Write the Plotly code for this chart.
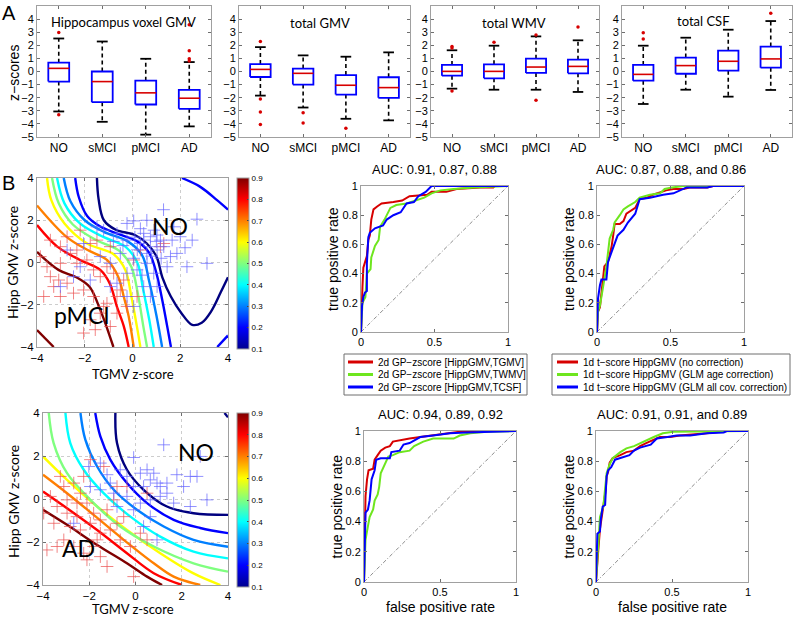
import plotly.graph_objects as go

W, H = 795, 617

# ---------------- panel A: boxplot summaries ----------------
groups = ["NO", "sMCI", "pMCI", "AD"]
group_pos = [1, 2, 3, 4]
box_titles = ["Hippocampus voxel GMV", "total GMV", "total WMV", "total CSF"]

hipp_upper = [2.52, 2.29, 0.97, 0.72]
hipp_q3 = [0.67, 0.00, -0.70, -1.40]
hipp_median = [0.24, -0.77, -1.63, -2.04]
hipp_q1 = [-0.77, -2.34, -2.52, -2.85]
hipp_lower = [-3.05, -3.84, -4.82, -4.19]
hipp_out_grp = [1, 1, 4, 4, 4, 4]
hipp_out_val = [2.97, -3.30, 3.56, 1.58, 0.97, 0.80]

gmv_upper = [1.86, 1.23, 1.13, 1.46]
gmv_q3 = [0.57, 0.22, -0.27, -0.44]
gmv_median = [0.16, -0.14, -1.05, -1.23]
gmv_q1 = [-0.42, -1.00, -1.76, -2.01]
gmv_lower = [-1.84, -2.75, -3.61, -3.73]
gmv_out_grp = [1, 1, 1, 1, 2, 2, 3]
gmv_out_val = [2.29, -2.09, -3.10, -4.04, -3.15, -3.94, -4.34]

wmv_upper = [1.62, 1.97, 2.68, 2.38]
wmv_q3 = [0.50, 0.55, 0.98, 0.90]
wmv_median = [0.01, 0.01, 0.34, 0.39]
wmv_q1 = [-0.32, -0.52, -0.11, -0.14]
wmv_lower = [-1.31, -1.39, -1.39, -1.56]
wmv_out_grp = [1, 1, 1, 2, 3, 3, 4]
wmv_out_val = [1.90, 1.80, -1.49, 2.23, 2.78, -2.20, 3.40]

csf_upper = [1.97, 2.58, 3.19, 3.85]
csf_q3 = [0.50, 1.06, 1.59, 1.90]
csf_median = [-0.22, 0.45, 0.78, 0.96]
csf_q1 = [-0.70, -0.17, 0.06, 0.29]
csf_lower = [-2.48, -1.39, -1.92, -1.41]
csf_out_grp = [1, 1, 4]
csf_out_val = [2.96, 2.48, 4.44]

# ---------------- panel B: GP probability contours ----------------
levels = [0.9, 0.9, 0.8, 0.7, 0.6, 0.5, 0.4, 0.3, 0.2, 0.2, 0.2, 0.1]
top_lines_x = [
    [-4, -3.1, -2.35, -1.8, -1.4, -1.1, -0.8],
    [-4, -3.3],
    [-4, -3.15, -2.2, -1.35, -0.95, -0.65, -0.37, -0.16],
    [-4, -2.75, -1.9, -1.07, -0.6, -0.37, -0.16, 0.05],
    [-3.58, -3.4, -2.85, -1.9, -0.8, -0.3, -0.05, 0.18, 0.33],
    [-3.37, -3.09, -2.5, -1.5, -0.55, -0.05, 0.22, 0.45, 0.61],
    [-3.16, -2.85, -2.2, -1.2, -0.3, 0.2, 0.45, 0.7, 0.89],
    [-2.88, -2.6, -2.0, -1.2, -0.2, 0.4, 0.7, 1.0, 1.24],
    [-2.4, -2.25, -1.9, -1.35, -0.6, 0.2, 0.7, 1.0, 1.25, 1.45, 1.61],
    [2.07, 2.84, 3.54, 4.0],
    [3.55, 4.0],
    [-1.49, -1.42, -1.2, -0.7, 0.1, 0.6, 1.0, 1.25, 1.6, 2.05, 2.5, 2.9, 3.3, 3.7, 4.0],
]
top_lines_y = [
    [0.5, -0.35, -0.7, -1.15, -2.1, -3.0, -4],
    [-3.2, -4],
    [1.77, 0.75, 0.12, -0.35, -1.0, -2.1, -3.0, -4],
    [2.7, 1.2, 0.6, 0.12, -0.67, -1.6, -2.55, -4],
    [4, 2.95, 1.85, 0.9, 0.4, -0.35, -1.6, -3.0, -4],
    [4, 2.8, 1.8, 1.05, 0.55, -0.2, -1.45, -3.0, -4],
    [4, 2.8, 1.85, 1.2, 0.75, 0.0, -1.3, -2.7, -4],
    [4, 2.9, 2.0, 1.45, 1.0, 0.35, -0.9, -2.5, -4],
    [4, 3.1, 2.2, 1.7, 1.35, 1.0, 0.45, -0.5, -1.8, -3.0, -4],
    [4, 3.58, 2.95, 2.5],
    [-4, -3.45],
    [4, 3.0, 2.0, 1.55, 1.3, 0.9, 0.3, -0.7, -1.6, -2.4, -2.95, -2.85, -2.3, -1.4, -0.7],
]

bottom_levels = [0.9, 0.8, 0.7, 0.6, 0.5, 0.4, 0.3, 0.2, 0.1, 0.1]
bottom_lines_x = [
    [-4, -2.96, -1.66, -0.37, 0.5, 1.15],
    [-4, -2.96, -1.66, -0.37, 0.79, 2.01],
    [-4, -2.96, -1.81, -0.51, 0.79, 1.65, 2.8],
    [-4, -2.96, -1.66, -0.37, 1.07, 2.51, 3.67],
    [-3.75, -3.54, -2.96, -1.95, -0.66, 0.79, 2.51, 4],
    [-3.03, -2.82, -2.24, -1.38, -0.22, 1.07, 2.51, 4],
    [-2.38, -2.17, -1.66, -0.94, 0.06, 1.22, 2.51, 4],
    [-1.74, -1.52, -1.09, -0.37, 0.5, 1.65, 2.8, 4],
    [-0.87, -0.8, -0.37, 0.35, 1.36, 2.51, 4],
    [3.85, 4.0],
]
bottom_lines_y = [
    [-0.5, -1.2, -2.14, -2.99, -3.61, -4],
    [0.35, -0.43, -1.44, -2.52, -3.45, -4],
    [1.13, 0.27, -0.74, -1.9, -2.99, -3.61, -4],
    [1.98, 0.89, -0.35, -1.44, -2.52, -3.46, -4],
    [4, 2.6, 1.2, -0.04, -1.28, -2.21, -2.99, -3.38],
    [4, 2.6, 1.36, 0.27, -0.82, -1.75, -2.45, -2.76],
    [4, 2.76, 1.51, 0.43, -0.5, -1.28, -1.9, -2.22],
    [4, 2.91, 1.83, 0.74, -0.19, -0.97, -1.35, -1.59],
    [4, 2.6, 1.36, 0.43, -0.35, -0.66, -0.74],
    [4, 3.8],
]

# subjects (TGMV z-score, Hipp GMV z-score)
top_no_x = [1.3, 0.05, 2.7, 2.0, 2.5, 0.9, 0.47, 1.17, 0.47, 0.75, 1.03, 1.59, 1.86, 3.12, 2.28,
            1.45, 0.19, 0.05, -0.23, -0.51, -1.21, -1.49, -2.05, -2.74, -3.02, -1.77, -0.93, 0.47,
            1.03, 0.75, 0.05, -0.23, -0.65, -0.93, -1.35, 0.6, 0.33, 1.31, 1.66, 0.75, 1.03, 0.33,
            -0.23, -0.65, 1.73, 0.61, 0.89, -0.23, -2.47, -2.19, 0.2, 0.8, 1.2, -0.4, 0.4, 1.0, 0.1,
            -0.8, 2.2, 0.6]
top_no_y = [2.5, 1.97, 2.05, 1.22, 1.06, 1.53, 1.38, 1.06, 1.06, 0.75, 0.59, 0.28, 0.43, -0.04, -0.2,
            -0.2, -0.35, 0.2, 1.06, 0.43, 1.53, 1.69, 0.9, 0.59, -1.14, -0.83, -1.14, -1.14,
            -1.14, -1.61, -2.08, -1.61, -0.98, -0.04, 0.28, 0.43, 0.9, 0.75, 1.06, 1.22, 1.3, 1.6,
            1.85, 1.38, 1.69, -0.04, -0.51, -0.51, -0.67, -0.2, 0.6, 0.3, 0.2, 0.8, -0.6, 1.0, 1.2,
            1.0, 0.7, 2.0]
top_pmci_x = [-3.44, -3.02, -3.86, -3.58, -3.09, -3.3, -2.74, -2.33, -2.6, -1.91, -1.63, -1.35, -1.07,
              -0.79, -2.05, -1.63, -1.07, -1.35, -1.77, -2.05, -1.56, -1.21, -0.65, -0.51, -0.37,
              -0.93, -1.49, -2.74, -2.19, 0.05, 0.33, 1.31, 1.17, -2.47, -3.02, -3.72, -0.65, -0.23,
              0.19, -0.93, -2.33, -1.77, -3.02, -3.44]
top_pmci_y = [1.06, 0.75, 0.28, -0.2, -0.83, -1.14, -0.98, -0.04, 0.43, 0.12, -0.35, -0.67, -0.2,
              -0.51, -1.3, -1.61, -1.93, -2.4, -2.71, -3.34, -3.18, -2.08, -1.61, -1.3, -0.83,
              0.75, 1.06, 1.22, 1.53, 0.12, 0.59, 0.9, 0.75, -1.45, -1.61, -1.61, -2.4, -2.08,
              -1.61, -3.03, 0.59, 0.9, -0.04, -0.67]

bot_no_x = [1.22, -0.08, 2.8, -2.02, -1.52, -1.23, -0.66, -0.37, 0.21, 0.5, 0.64, 0.93, 0.35, -0.08,
            0.79, 1.79, 2.37, 2.66, 2.08, 3.09, 2.37, 1.65, 1.07, 1.36, 0.64, 0.21, -0.37, -0.94,
            -1.52, -1.95, -0.8, -0.08, 0.64, 0.93, 0.35, -2.67, -1.09, 1.07, 1.36]
bot_no_y = [2.52, 1.93, 1.98, 1.51, 1.67, 1.13, 1.36, 1.05, 1.2, 1.36, 0.89, 0.74, 0.58, 0.58,
            1.2, 1.13, 1.05, 1.05, 0.58, -0.04, -0.35, -0.19, 0.12, 0.27, -0.04, -0.19, 0.12, 0.27,
            0.43, 0.58, -0.35, -0.5, -0.82, -1.9, -1.28, -1.13, 0.74, 0.58, 0.74]
bot_ad_x = [-3.68, -3.97, -3.39, -2.96, -2.67, -3.1, -2.38, -2.1, -1.81, -1.52, -1.23, -2.53, -2.82,
            -2.38, -1.95, -1.52, -1.09, -0.8, -0.51, -3.1, -3.39, -3.83, -2.67, -2.24, -1.81, -1.52,
            -1.23, -1.66, -2.96, -3.53, -0.08, 0.21, 0.5, -0.22, -0.66, -0.8, -1.95, -1.37, -0.37,
            0.5, -0.94, -2.24, -3.25, -2.1, -2.53]
bot_ad_y = [0.12, -0.66, -0.35, -0.04, 0.74, 0.58, 0.27, -0.19, -0.66, -0.97, -0.5, -0.82, -1.28,
            -1.44, -1.13, -1.59, -1.44, -1.13, -0.82, -1.9, -2.21, -2.37, -2.21, -2.52, -2.21, -2.68,
            -3.14, -1.9, -0.66, -1.13, -3.61, -1.59, -1.9, -2.21, -1.9, 0.58, 1.83, 1.51, 0.58,
            0.27, -0.04, 1.05, 1.05, -2.83, -0.19]

# ---------------- panel B: ROC curves (false positive rate, true positive rate) ----------------
roc_titles = ["AUC: 0.91, 0.87, 0.88", "AUC: 0.87, 0.88, and 0.86",
              "AUC: 0.94, 0.89, 0.92", "AUC: 0.91, 0.91, and 0.89"]

roc1_red_fpr = [0, 0.005, 0.01, 0.016, 0.04, 0.05, 0.06, 0.07, 0.085, 0.11, 0.14, 0.22, 0.28, 0.33, 0.45, 0.48, 0.58, 0.65, 0.81, 0.9, 0.91, 1]
roc1_red_tpr = [0, 0.22, 0.31, 0.44, 0.52, 0.63, 0.66, 0.77, 0.84, 0.86, 0.88, 0.89, 0.9, 0.93, 0.94, 0.96, 0.96, 0.98, 0.99, 0.99, 1, 1]
roc1_green_fpr = [0, 0.01, 0.03, 0.04, 0.065, 0.07, 0.095, 0.12, 0.13, 0.16, 0.2, 0.24, 0.31, 0.37, 0.43, 0.48, 0.54, 0.63, 0.77, 1]
roc1_green_tpr = [0, 0.2, 0.24, 0.4, 0.43, 0.51, 0.59, 0.63, 0.72, 0.77, 0.85, 0.87, 0.88, 0.9, 0.92, 0.95, 0.97, 0.98, 0.99, 1]
roc1_blue_fpr = [0, 0.007, 0.016, 0.027, 0.04, 0.04, 0.05, 0.06, 0.095, 0.15, 0.175, 0.22, 0.27, 0.31, 0.36, 0.39, 0.44, 0.48, 1]
roc1_blue_tpr = [0, 0.18, 0.24, 0.27, 0.28, 0.47, 0.65, 0.68, 0.71, 0.73, 0.77, 0.8, 0.82, 0.88, 0.89, 0.93, 0.96, 1, 1]

roc2_red_fpr = [0, 0.007, 0.02, 0.03, 0.04, 0.05, 0.075, 0.1, 0.11, 0.12, 0.155, 0.18, 0.2, 0.235, 0.26, 0.29, 0.34, 0.38, 0.47, 0.52, 0.59, 0.63, 0.75, 0.79, 1]
roc2_red_tpr = [0, 0.14, 0.17, 0.27, 0.34, 0.45, 0.48, 0.59, 0.66, 0.74, 0.74, 0.76, 0.81, 0.83, 0.85, 0.91, 0.92, 0.94, 0.97, 0.98, 0.98, 0.99, 0.99, 1, 1]
roc2_green_fpr = [0, 0.007, 0.02, 0.04, 0.05, 0.064, 0.086, 0.11, 0.12, 0.155, 0.18, 0.21, 0.26, 0.29, 0.36, 0.43, 0.46, 0.51, 0.59, 1]
roc2_green_tpr = [0, 0.14, 0.18, 0.32, 0.36, 0.45, 0.64, 0.7, 0.75, 0.8, 0.84, 0.86, 0.89, 0.92, 0.94, 0.95, 0.98, 0.99, 1, 1]
roc2_blue_fpr = [0, 0.002, 0.007, 0.02, 0.03, 0.064, 0.075, 0.1, 0.12, 0.14, 0.18, 0.21, 0.26, 0.29, 0.36, 0.45, 0.52, 0.56, 0.61, 0.75, 0.79, 1]
roc2_blue_tpr = [0, 0.14, 0.23, 0.32, 0.36, 0.36, 0.48, 0.55, 0.61, 0.66, 0.7, 0.75, 0.81, 0.91, 0.92, 0.94, 0.95, 0.97, 0.99, 0.99, 1, 1]

roc3_red_fpr = [0, 0.005, 0.01, 0.02, 0.03, 0.06, 0.07, 0.09, 0.11, 0.14, 0.17, 0.19, 0.235, 0.3, 0.37, 0.455, 0.52, 0.63, 0.74, 1]
roc3_red_tpr = [0, 0.43, 0.57, 0.68, 0.74, 0.75, 0.81, 0.84, 0.87, 0.89, 0.9, 0.93, 0.94, 0.95, 0.96, 0.97, 0.98, 0.995, 1, 1]
roc3_green_fpr = [0, 0.005, 0.01, 0.026, 0.037, 0.06, 0.07, 0.09, 0.1, 0.11, 0.14, 0.16, 0.19, 0.235, 0.3, 0.33, 0.39, 0.455, 0.59, 0.63, 0.7, 0.81, 1]
roc3_green_tpr = [0, 0.15, 0.28, 0.37, 0.43, 0.48, 0.54, 0.58, 0.63, 0.72, 0.78, 0.83, 0.84, 0.86, 0.87, 0.9, 0.93, 0.95, 0.95, 0.97, 0.985, 0.995, 1]
roc3_blue_fpr = [0, 0.005, 0.01, 0.026, 0.037, 0.05, 0.07, 0.08, 0.11, 0.17, 0.18, 0.235, 0.26, 0.3, 0.37, 0.455, 0.565, 0.67, 0.81, 0.9, 1]
roc3_blue_tpr = [0, 0.26, 0.46, 0.48, 0.54, 0.68, 0.74, 0.81, 0.82, 0.82, 0.86, 0.87, 0.91, 0.92, 0.96, 0.97, 0.985, 0.99, 0.995, 1, 1]

roc4_red_fpr = [0, 0.009, 0.015, 0.026, 0.037, 0.048, 0.064, 0.07, 0.08, 0.09, 0.11, 0.16, 0.2, 0.25, 0.29, 0.33, 0.38, 0.42, 0.49, 0.55, 0.73, 0.86, 1]
roc4_red_tpr = [0, 0.17, 0.21, 0.35, 0.43, 0.5, 0.61, 0.7, 0.73, 0.79, 0.82, 0.84, 0.86, 0.87, 0.9, 0.92, 0.94, 0.96, 0.96, 0.97, 0.985, 1, 1]
roc4_green_fpr = [0, 0.009, 0.015, 0.026, 0.048, 0.06, 0.07, 0.09, 0.11, 0.16, 0.2, 0.25, 0.29, 0.33, 0.38, 0.44, 0.51, 1]
roc4_green_tpr = [0, 0.17, 0.3, 0.43, 0.5, 0.63, 0.72, 0.78, 0.82, 0.86, 0.885, 0.9, 0.92, 0.94, 0.96, 0.985, 0.995, 1]
roc4_blue_fpr = [0, 0.009, 0.026, 0.031, 0.044, 0.06, 0.066, 0.07, 0.08, 0.1, 0.125, 0.18, 0.22, 0.25, 0.29, 0.36, 0.4, 0.47, 0.53, 0.62, 0.73, 0.84, 0.86, 1]
roc4_blue_tpr = [0, 0.32, 0.335, 0.41, 0.5, 0.51, 0.63, 0.7, 0.74, 0.76, 0.81, 0.83, 0.84, 0.87, 0.89, 0.91, 0.95, 0.96, 0.97, 0.97, 0.985, 0.99, 1, 1]

legend_left = ["2d GP\u2212zscore [HippGMV,TGMV]", "2d GP\u2212zscore [HippGMV,TWMV]",
               "2d GP\u2212zscore [HippGMV,TCSF]"]
legend_right = ["1d t\u2212score HippGMV (no correction)", "1d t\u2212score HippGMV (GLM age correction)",
                "1d t\u2212score HippGMV (GLM all cov. correction)"]

# ---------------- styling ----------------
HELV = "Liberation Sans, Arial, sans-serif"
GILL = "Lato, sans-serif"
FRAME = "rgb(160,160,160)"
RED, GREEN, BLUE = "rgb(215,0,0)", "rgb(110,230,30)", "rgb(0,0,255)"


def jet(t):
    t = (t - 0.1) / 0.8
    r = min(1, max(0, 1.5 - abs(4 * t - 3)))
    g = min(1, max(0, 1.5 - abs(4 * t - 2)))
    b = min(1, max(0, 1.5 - abs(4 * t - 1)))
    return f"rgb({int(r * 255)},{int(g * 255)},{int(b * 255)})"


JET = [[0, "rgb(0,0,143)"], [0.125, "rgb(0,0,255)"], [0.375, "rgb(0,255,255)"],
       [0.625, "rgb(255,255,0)"], [0.875, "rgb(255,0,0)"], [1, "rgb(128,0,0)"]]


def px_x(a, b):
    return [a / W, b / W]


def px_y(top, bottom):
    return [1 - bottom / H, 1 - top / H]


def axis_names(n):
    s = "" if n == 1 else str(n)
    return "xaxis" + s, "yaxis" + s, "x" + s, "y" + s


def frame_axis(**kw):
    d = dict(showline=True, mirror="ticks", linecolor=FRAME, linewidth=1, ticks="inside", ticklen=3,
             tickcolor="rgb(110,110,110)", showgrid=False, zeroline=False,
             tickfont=dict(family=HELV, size=11, color="black"), fixedrange=True)
    d.update(kw)
    return d


fig = go.Figure()
annotations = []
shapes = []


def note(text, x, y, size, family=HELV, angle=0, xanchor="center", xref="paper", yref="paper"):
    if xref == "paper":
        x, y = x / W, 1 - y / H
    annotations.append(dict(text=text, x=x, y=y, xref=xref, yref=yref, showarrow=False,
                            xanchor=xanchor, yanchor="middle", textangle=angle,
                            font=dict(family=family, size=size, color="black")))


# ---- panel A ----
box_sets = [
    (hipp_lower, hipp_q1, hipp_median, hipp_q3, hipp_upper, hipp_out_grp, hipp_out_val),
    (gmv_lower, gmv_q1, gmv_median, gmv_q3, gmv_upper, gmv_out_grp, gmv_out_val),
    (wmv_lower, wmv_q1, wmv_median, wmv_q3, wmv_upper, wmv_out_grp, wmv_out_val),
    (csf_lower, csf_q1, csf_median, csf_q3, csf_upper, csf_out_grp, csf_out_val),
]
box_frames = [(37, 211), (239, 410), (431, 599), (622, 792)]
title_pos = [(123, 22), (320, 23), (514, 23), (703, 21)]
BW, CW = 0.24, 0.125

for i, (lo, q1, med, q3, hi, og, ov) in enumerate(box_sets):
    n = i + 1
    xa, ya, xr, yr = axis_names(n)
    bx, by, mx, my, wx, wy, cx, cy = [], [], [], [], [], [], [], []
    for p, a, b, m, c, d in zip(group_pos, lo, q1, med, q3, hi):
        bx += [p - BW, p + BW, p + BW, p - BW, p - BW, None]
        by += [b, b, c, c, b, None]
        mx += [p - BW, p + BW, None]
        my += [m, m, None]
        wx += [p, p, None, p, p, None]
        wy += [c, d, None, b, a, None]
        cx += [p - CW, p + CW, None, p - CW, p + CW, None]
        cy += [d, d, None, a, a, None]
    common = dict(xaxis=xr, yaxis=yr, mode="lines", showlegend=False, hoverinfo="skip")
    fig.add_trace(go.Scatter(x=wx, y=wy, line=dict(color="black", width=1.6, dash="4px,3px"), **common))
    fig.add_trace(go.Scatter(x=cx, y=cy, line=dict(color="black", width=1.8), **common))
    fig.add_trace(go.Scatter(x=bx, y=by, line=dict(color=BLUE, width=1.8), fill="toself",
                             fillcolor="white", **common))
    fig.add_trace(go.Scatter(x=mx, y=my, line=dict(color=RED, width=1.6), **common))
    fig.add_trace(go.Scatter(x=og, y=ov, xaxis=xr, yaxis=yr, mode="markers", showlegend=False,
                             marker=dict(color=RED, size=3.5), hoverinfo="skip"))
    fx = box_frames[i]
    fig.update_layout(**{
        xa: frame_axis(domain=px_x(*fx), range=[0.5, 4.5], tickvals=group_pos, ticktext=groups,
                       tickfont=dict(family=HELV, size=12, color="black")),
        ya: frame_axis(domain=px_y(6, 137), range=[-5, 5], tickvals=list(range(-5, 6)), anchor=xr),
    })
    fig.layout[xa].anchor = yr
    note(box_titles[i], title_pos[i][0], title_pos[i][1], 13, GILL)

note("z\u2212scores", 14, 73, 14, angle=-90)
note("A", 9, 13, 20)
note("B", 8, 183, 20)

# ---- panel B contours ----
contour_frames = [(37, 228, 178, 347), (43, 228, 413, 585)]
contour_sets = [
    (levels, top_lines_x, top_lines_y, top_no_x, top_no_y, top_pmci_x, top_pmci_y),
    (bottom_levels, bottom_lines_x, bottom_lines_y, bot_no_x, bot_no_y, bot_ad_x, bot_ad_y),
]
for i, (lv, lx, ly, nx, ny, rx, ry) in enumerate(contour_sets):
    n = 5 + i
    xa, ya, xr, yr = axis_names(n)
    for level, xs, ys in zip(lv, lx, ly):
        fig.add_trace(go.Scatter(x=xs, y=ys, xaxis=xr, yaxis=yr, mode="lines", showlegend=False,
                                 line=dict(color=jet(level), width=2.4, shape="spline"),
                                 hoverinfo="skip"))
    fig.add_trace(go.Scatter(x=rx, y=ry, xaxis=xr, yaxis=yr, mode="markers", showlegend=False,
                             marker=dict(symbol="cross-thin", size=9,
                                         line=dict(color="rgba(235,80,80,0.7)", width=1)),
                             hoverinfo="skip"))
    fig.add_trace(go.Scatter(x=nx, y=ny, xaxis=xr, yaxis=yr, mode="markers", showlegend=False,
                             marker=dict(symbol="cross-thin", size=9,
                                         line=dict(color="rgba(100,100,255,0.7)", width=1)),
                             hoverinfo="skip"))
    l, r, t, b = contour_frames[i]
    fig.add_trace(go.Scatter(x=[0], y=[0], xaxis=xr, yaxis=yr, mode="markers", showlegend=False,
                             hoverinfo="skip",
                             marker=dict(size=1, opacity=0, color=[0.5], cmin=0.1, cmax=0.9,
                                         colorscale=JET, showscale=True,
                                         colorbar=dict(x=237 / W, xanchor="left", xpad=0, ypad=0,
                                                       y=1 - t / H, yanchor="top", len=(b - t + 2) / H,
                                                       lenmode="fraction", thickness=12,
                                                       outlinecolor=FRAME, outlinewidth=1,
                                                       tickvals=[0.1, 0.2, 0.3, 0.4, 0.5, 0.6, 0.7, 0.8, 0.9],
                                                       ticks="inside", ticklen=2,
                                                       tickfont=dict(family=HELV, size=8, color="black")))))
    grid = dict(showgrid=True, gridcolor="rgb(205,205,205)", griddash="dot", gridwidth=1)
    fig.update_layout(**{
        xa: frame_axis(domain=px_x(l, r), range=[-4, 4], tickvals=[-4, -2, 0, 2, 4], anchor=yr,
                       tickfont=dict(family=HELV, size=11.5, color="black"), **grid),
        ya: frame_axis(domain=px_y(t, b), range=[-4, 4], tickvals=[-4, -2, 0, 2, 4], anchor=xr,
                       tickfont=dict(family=HELV, size=11.5, color="black"), **grid),
    })
    note("TGMV z-score", 133, [374, 609][i], 13, GILL)
    note("Hipp GMV z-score", 13, [263, 502][i], 14, GILL, angle=-90)

note("NO", 1.55, 1.75, 23, GILL, xref="x5", yref="y5")
note("pMCI", -2.1, -2.5, 23, GILL, xref="x5", yref="y5")
note("NO", 2.6, 2.2, 23, GILL, xref="x6", yref="y6")
note("AD", -2.45, -2.3, 23, GILL, xref="x6", yref="y6")

# ---- panel B ROC ----
roc_frames = [(361, 508, 186, 332), (597, 744, 186, 332), (364, 516, 431, 582), (596, 748, 431, 582)]
roc_sets = [
    [(roc1_red_fpr, roc1_red_tpr), (roc1_green_fpr, roc1_green_tpr), (roc1_blue_fpr, roc1_blue_tpr)],
    [(roc2_red_fpr, roc2_red_tpr), (roc2_green_fpr, roc2_green_tpr), (roc2_blue_fpr, roc2_blue_tpr)],
    [(roc3_red_fpr, roc3_red_tpr), (roc3_green_fpr, roc3_green_tpr), (roc3_blue_fpr, roc3_blue_tpr)],
    [(roc4_red_fpr, roc4_red_tpr), (roc4_green_fpr, roc4_green_tpr), (roc4_blue_fpr, roc4_blue_tpr)],
]
for i, curves in enumerate(roc_sets):
    n = 7 + i
    xa, ya, xr, yr = axis_names(n)
    fig.add_trace(go.Scatter(x=[0, 1], y=[0, 1], xaxis=xr, yaxis=yr, mode="lines", showlegend=False,
                             line=dict(color="rgb(110,110,110)", width=0.8, dash="4px,2px,1px,2px"),
                             hoverinfo="skip"))
    for (fx, ty), col in zip(curves, [RED, GREEN, BLUE]):
        fig.add_trace(go.Scatter(x=fx, y=ty, xaxis=xr, yaxis=yr, mode="lines", showlegend=False,
                                 line=dict(color=col, width=2), hoverinfo="skip"))
    l, r, t, b = roc_frames[i]
    fig.update_layout(**{
        xa: frame_axis(domain=px_x(l, r), range=[0, 1], tickvals=[0, 0.5, 1], anchor=yr),
        ya: frame_axis(domain=px_y(t, b), range=[0, 1], tickvals=[0, 0.2, 0.4, 0.6, 0.8, 1], anchor=xr),
    })
    note(roc_titles[i], (l + r) / 2, t - 17, 13)
    note("true positive rate", l - 28, (t + b) / 2, 14, angle=-90)
    if i >= 2:
        note("false positive rate", (l + r) / 2, 607, 14)

# hand-drawn legends (tight MATLAB-style spacing)
for (bx0, bx1, lx0, lx1, tx), labels in zip([(344, 527, 348, 373, 376), (552, 790, 557, 578, 581)],
                                           [legend_left, legend_right]):
    shapes.append(dict(type="rect", xref="paper", yref="paper", x0=bx0 / W, x1=bx1 / W,
                       y0=1 - 395 / H, y1=1 - 354 / H, line=dict(color="rgb(110,110,110)", width=1),
                       fillcolor="white", layer="below"))
    for k, (lab, col) in enumerate(zip(labels, [RED, GREEN, BLUE])):
        yy = 362 + 12.5 * k
        shapes.append(dict(type="line", xref="paper", yref="paper", x0=lx0 / W, x1=lx1 / W,
                           y0=1 - yy / H, y1=1 - yy / H, line=dict(color=col, width=3)))
        note(lab, tx, yy, 10, xanchor="left")

fig.update_layout(
    width=W, height=H, autosize=False,
    margin=dict(l=0, r=0, t=0, b=0, autoexpand=False),
    paper_bgcolor="white", plot_bgcolor="white",
    annotations=annotations, shapes=shapes, showlegend=False,
)

# the page's default 8px body margin would shift the whole figure
fig.write_html("out.html", config={"displayModeBar": False},
               post_script="document.body.style.margin='0px';")
